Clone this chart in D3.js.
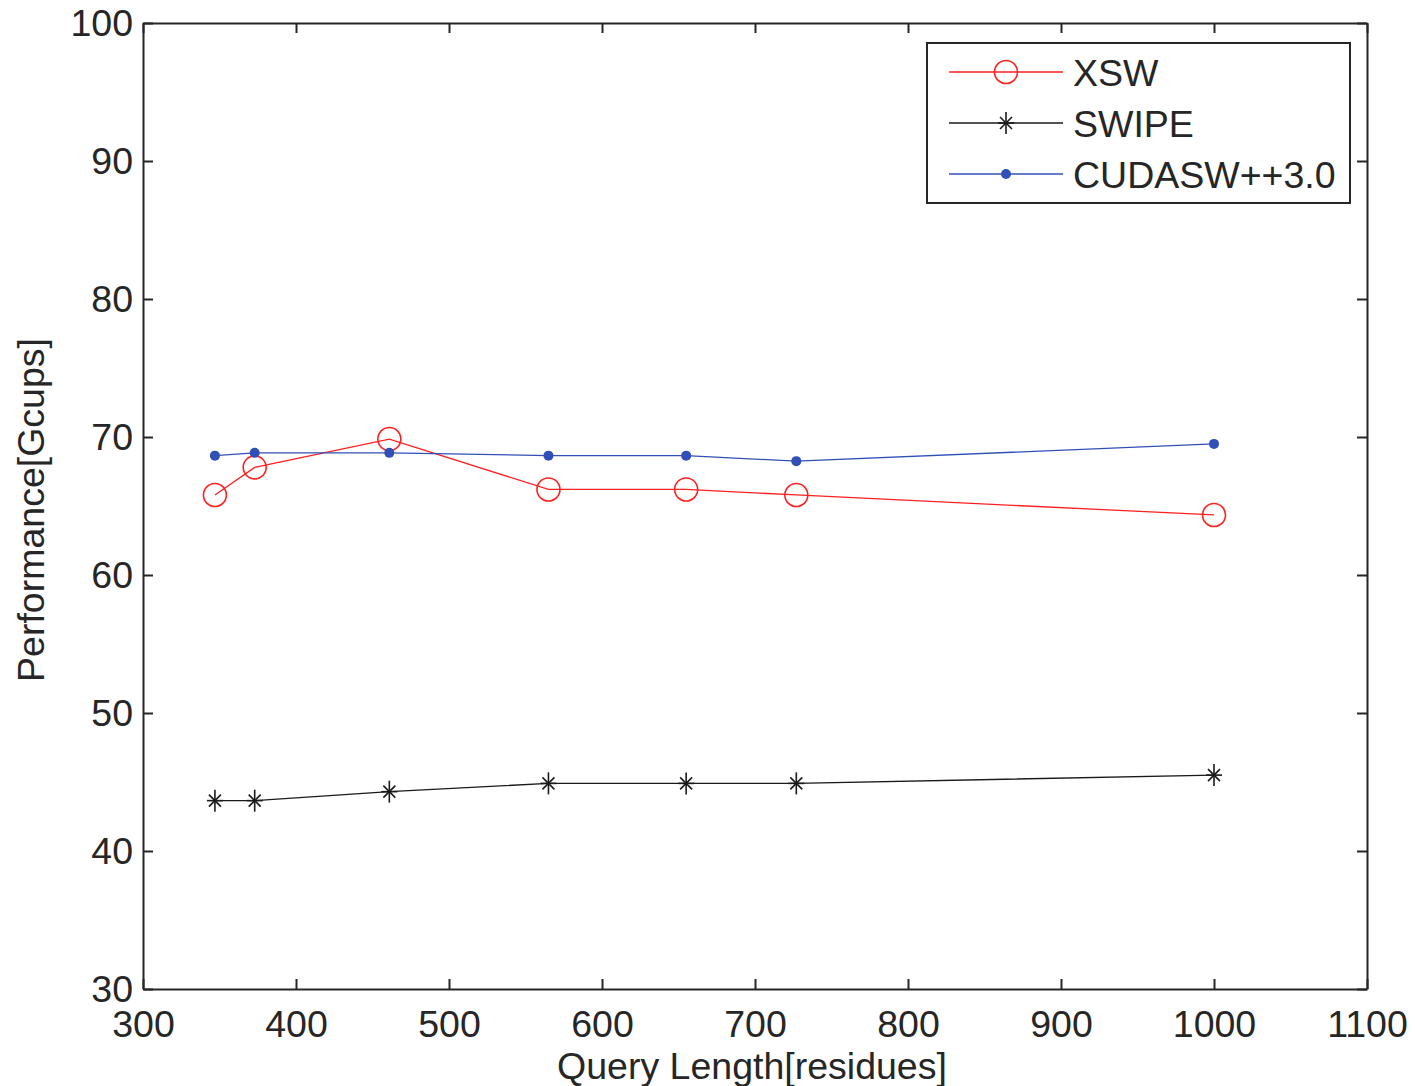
<!DOCTYPE html>
<html>
<head>
<meta charset="utf-8">
<script src="https://cdn.jsdelivr.net/npm/d3@7"></script>
<style>
  body { margin: 0; background: #fff; }
  text { font-family: "Liberation Sans", Arial, sans-serif; fill: #262626; }
</style>
</head>
<body>
<div class="container"></div>
<script>
// data
var query_len = [347, 373, 461, 565, 655, 727, 1000];
var xsw       = [65.8, 67.8, 69.85, 66.2, 66.2, 65.8, 64.35];
var swipe     = [43.65, 43.65, 44.3, 44.9, 44.9, 44.9, 45.5];
var cudasw    = [68.65, 68.85, 68.85, 68.65, 68.65, 68.25, 69.5];
var x_ticks = [300, 400, 500, 600, 700, 800, 900, 1000, 1100];
var y_ticks = [30, 40, 50, 60, 70, 80, 90, 100];
var series_names = ["XSW", "SWIPE", "CUDASW++3.0"];

var margin = {top: 23, right: 48, bottom: 97, left: 143},
    width = 1415 - margin.left - margin.right,
    height = 1086 - margin.top - margin.bottom;

var x_scale = d3.scaleLinear().domain([300, 1100]).range([0, width]);
var y_scale = d3.scaleLinear().domain([30, 100]).range([height, 0]);

var svg = d3.select("div.container").append("svg")
    .attr("width", 1415)
    .attr("height", 1086);

var g = svg.append("g")
    .attr("transform", "translate(" + margin.left + "," + margin.top + ")");

var axis_color = "#262626";
var tick_len = 10;
var font_px = "37.5px";

// axes, MATLAB style box with inner ticks on all sides
var styleAxis = function (sel) {
  sel.selectAll("path.domain").attr("stroke", axis_color).attr("stroke-width", 2);
  sel.selectAll(".tick line").attr("stroke", axis_color).attr("stroke-width", 2);
  sel.selectAll("text").style("font-size", font_px).attr("fill", axis_color);
};

g.append("g")
    .attr("transform", "translate(0," + height + ")")
    .call(d3.axisBottom(x_scale).tickValues(x_ticks).tickFormat(d3.format("d"))
          .tickSize(-tick_len).tickSizeOuter(0).tickPadding(21))
    .call(styleAxis);
g.append("g")
    .call(d3.axisTop(x_scale).tickValues(x_ticks).tickSize(-tick_len).tickSizeOuter(0).tickFormat(""))
    .call(styleAxis);
g.append("g")
    .call(d3.axisLeft(y_scale).tickValues(y_ticks).tickFormat(d3.format("d"))
          .tickSize(-tick_len).tickSizeOuter(0).tickPadding(10))
    .call(styleAxis);
g.append("g")
    .attr("transform", "translate(" + width + ",0)")
    .call(d3.axisRight(y_scale).tickValues(y_ticks).tickSize(-tick_len).tickSizeOuter(0).tickFormat(""))
    .call(styleAxis);

// axis titles
svg.append("text")
    .attr("x", margin.left + width / 2 - 3)
    .attr("y", 1079)
    .attr("text-anchor", "middle")
    .style("font-size", font_px)
    .text("Query Length[residues]");
svg.append("text")
    .attr("transform", "translate(44," + (margin.top + height / 2 + 4) + ") rotate(-90)")
    .attr("text-anchor", "middle")
    .style("font-size", font_px)
    .text("Performance[Gcups]");

var line = d3.line()
    .x(function(d) { return x_scale(d[0]); })
    .y(function(d) { return y_scale(d[1]); });

var colors = ["#ff2020", "#1a1a1a", "#3050b8"];
var all_data = [xsw, swipe, cudasw].map(function (s) {
  return query_len.map(function (q, i) { return [q, s[i]]; });
});

// marker drawers
var draw_marker = function (sel, kind, color) {
  if (kind === 0) {
    sel.append("circle").attr("r", 11.5)
        .attr("fill", "none").attr("stroke", color).attr("stroke-width", 1.6);
  } else if (kind === 1) {
    var segs = [[0, -11, 0, 11], [-8, 0, 8, 0], [-6, -6, 6, 6], [-6, 6, 6, -6]];
    segs.forEach(function (s) {
      sel.append("line").attr("x1", s[0]).attr("y1", s[1]).attr("x2", s[2]).attr("y2", s[3])
          .attr("stroke", color).attr("stroke-width", 1.6);
    });
  } else {
    sel.append("circle").attr("r", 5).attr("fill", color);
  }
};

all_data.forEach(function (dat, k) {
  g.append("path")
      .datum(dat)
      .attr("fill", "none")
      .attr("stroke", colors[k])
      .attr("stroke-width", 1.3)
      .attr("d", line);
  dat.forEach(function (d) {
    var m = g.append("g")
        .attr("transform", "translate(" + x_scale(d[0]) + "," + y_scale(d[1]) + ")");
    draw_marker(m, k, colors[k]);
  });
});

// legend
var legend = svg.append("g").attr("transform", "translate(927,43)");
legend.append("rect")
    .attr("width", 423).attr("height", 160)
    .attr("fill", "#fff").attr("stroke", axis_color).attr("stroke-width", 2);
series_names.forEach(function (name, k) {
  var row_y = 29 + k * 51;
  legend.append("line")
      .attr("x1", 22).attr("x2", 136).attr("y1", row_y).attr("y2", row_y)
      .attr("stroke", colors[k]).attr("stroke-width", 1.3);
  var m = legend.append("g").attr("transform", "translate(79," + row_y + ")");
  draw_marker(m, k, colors[k]);
  legend.append("text")
      .attr("x", 146).attr("y", row_y + 14)
      .style("font-size", font_px)
      .text(name);
});
</script>
</body>
</html>
